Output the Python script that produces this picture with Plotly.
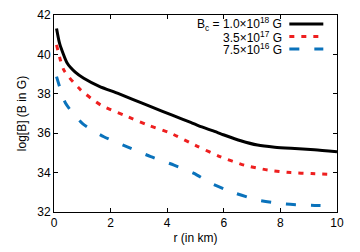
import plotly.graph_objects as go

r_black = [0.09, 0.2, 0.47, 0.75, 1.05, 1.6, 2.24, 2.8, 3.42, 4.2, 4.83, 5.19, 5.6, 6.01, 6.6, 7.19, 7.8, 8.37, 9.2, 10.0]
B_black = [41.32, 40.55, 39.55, 39.1, 38.79, 38.38, 38.03, 37.7, 37.35, 36.9, 36.55, 36.33, 36.13, 35.91, 35.62, 35.40, 35.29, 35.23, 35.16, 35.06]

r_red = [0.09, 0.35, 0.94, 1.65, 2.47, 3.3, 4.12, 5.07, 5.89, 6.72, 7.55, 8.37, 9.1, 9.8]
B_red = [40.48, 39.2, 38.2, 37.43, 36.92, 36.42, 36.0, 35.33, 34.8, 34.38, 34.13, 34.0, 33.95, 33.91]

r_blue = [0.09, 0.41, 1.0, 1.76, 2.59, 3.42, 4.24, 4.95, 5.54, 6.36, 7.19, 8.13, 9.08, 9.55]
B_blue = [38.87, 37.52, 36.5, 35.82, 35.31, 34.81, 34.38, 33.96, 33.46, 32.98, 32.61, 32.41, 32.34, 32.32]

labels = ["B<sub>c</sub> = 1.0×10<sup>18</sup> G", "3.5×10<sup>17</sup> G", "7.5×10<sup>16</sup> G"]
colors = ["black", "#ee1f1f", "#0a72bb"]
dashes = ["solid", "5px,7px", "10px,15px"]

x_ticks = [0, 2, 4, 6, 8, 10]
y_ticks = [32, 34, 36, 38, 40, 42]

FONT = "Liberation Sans, Arial"

fig = go.Figure()
for rr, bb, c, d in [(r_black, B_black, colors[0], dashes[0]),
                     (r_red, B_red, colors[1], dashes[1]),
                     (r_blue, B_blue, colors[2], dashes[2])]:
    fig.add_trace(go.Scatter(x=rr, y=bb, mode="lines",
                             line=dict(color=c, width=3, dash=d, shape="spline", smoothing=0.6),
                             showlegend=False, hoverinfo="skip"))

# legend drawn manually (text right-aligned, line sample on the right)
W, H = 360, 252
ml, mr, mt, mb = 53.5, 23.3, 15, 40
pw, ph = W - ml - mr, H - mt - mb
def px2paper_x(px): return (px - ml) / pw
def px2paper_y(py): return 1 - (py - mt) / ph
rows_y = [24, 36.5, 49]
for lab, c, d, yy in zip(labels, colors, dashes, rows_y):
    fig.add_annotation(x=px2paper_x(283), y=px2paper_y(yy), xref="paper", yref="paper", text=lab,
                       showarrow=False, xanchor="right", yanchor="middle", borderpad=0,
                       font=dict(family=FONT, size=12, color="black"))
    fig.add_shape(type="line", xref="paper", yref="paper",
                  x0=px2paper_x(289), x1=px2paper_x(323), y0=px2paper_y(yy), y1=px2paper_y(yy),
                  line=dict(color=c, width=3, dash=d))

axis_common = dict(showgrid=False, zeroline=False, showline=True, linecolor="black", linewidth=1,
                   mirror="allticks", ticks="inside", ticklen=4, tickcolor="black",
                   tickfont=dict(family=FONT, size=12, color="black"))
fig.update_xaxes(range=[0, 10], tickvals=x_ticks,
                 title=dict(text="r (in km)", standoff=4, font=dict(family=FONT, size=12, color="black")),
                 **axis_common)
fig.update_yaxes(range=[32, 42], tickvals=y_ticks,
                 title=dict(text="log[B] (B in G)", standoff=8, font=dict(family=FONT, size=12, color="black")),
                 **axis_common)
fig.update_layout(width=W, height=H, margin=dict(l=ml, r=mr, t=mt, b=mb, autoexpand=False),
                  plot_bgcolor="white", paper_bgcolor="white")
fig.write_html("out.html", config={"displayModeBar": False},
               post_script="document.body.style.margin='0';")
